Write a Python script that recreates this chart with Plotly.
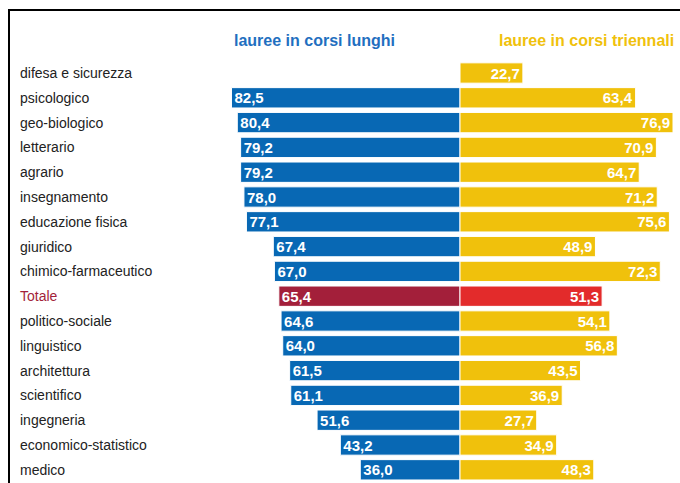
import plotly.graph_objects as go

categorie = ['difesa e sicurezza', 'psicologico', 'geo-biologico', 'letterario', 'agrario',
             'insegnamento', 'educazione fisica', 'giuridico', 'chimico-farmaceutico', 'Totale',
             'politico-sociale', 'linguistico', 'architettura', 'scientifico', 'ingegneria',
             'economico-statistico', 'medico']
lunghi = [None, 82.5, 80.4, 79.2, 79.2, 78.0, 77.1, 67.4, 67.0, 65.4,
          64.6, 64.0, 61.5, 61.1, 51.6, 43.2, 36.0]
triennali = [22.7, 63.4, 76.9, 70.9, 64.7, 71.2, 75.6, 48.9, 72.3, 51.3,
             54.1, 56.8, 43.5, 36.9, 27.7, 34.9, 48.3]

BLU, GIALLO = '#0868b4', '#f0c10c'
BORDEAUX, ROSSO = '#a31f3a', '#e32b2b'


def fmt(v):
    return '' if v is None else f'<b>{v:.1f}</b>'.replace('.', ',')


col_l = [BORDEAUX if c == 'Totale' else BLU for c in categorie]
col_r = [ROSSO if c == 'Totale' else GIALLO for c in categorie]

fig = go.Figure()
fig.add_trace(go.Bar(
    y=categorie, x=[None if v is None else -v for v in lunghi],
    orientation='h', marker=dict(color=col_l, line=dict(color='white', width=1)),
    text=[fmt(v) for v in lunghi], textposition='inside', insidetextanchor='end',
    textangle=0, constraintext='none',
    insidetextfont=dict(color='white', size=15, family='Liberation Sans'),
    width=0.82, hoverinfo='skip'))
fig.add_trace(go.Bar(
    y=categorie, x=triennali,
    orientation='h', marker=dict(color=col_r, line=dict(color='white', width=1)),
    text=[fmt(v) for v in triennali], textposition='inside', insidetextanchor='end',
    textangle=0, constraintext='none',
    insidetextfont=dict(color='white', size=15, family='Liberation Sans'),
    width=0.82, hoverinfo='skip'))

# etichette categorie a sinistra
for c in categorie:
    fig.add_annotation(x=18 / 680, xref='paper', y=c, yref='y', text=c,
                       showarrow=False, xanchor='left',
                       font=dict(size=14, color=BORDEAUX if c == 'Totale' else '#222222',
                                 family='Liberation Sans'))

fig.add_annotation(x=314 / 680, y=1 - 30 / 483, xref='paper', yref='paper',
                   text='<b>lauree in corsi lunghi</b>', showarrow=False,
                   font=dict(size=16, color='#1f6fc0', family='Liberation Sans'))
fig.add_annotation(x=676 / 680, y=1 - 30 / 483, xref='paper', yref='paper',
                   text='<b>lauree in corsi triennali</b>', showarrow=False, xanchor='right',
                   font=dict(size=16, color=GIALLO, family='Liberation Sans'))

# cornice
fig.add_shape(type='rect', xref='paper', yref='paper',
              x0=9 / 680, x1=1.2, y0=-0.2, y1=1 - 10 / 483,
              line=dict(color='black', width=2), layer='above')

fig.update_layout(
    width=680, height=483, barmode='overlay', showlegend=False,
    margin=dict(l=0, r=0, t=0, b=0),
    plot_bgcolor='white', paper_bgcolor='white',
    font=dict(family='Liberation Sans'),
)
fig.update_xaxes(range=[-460 / 2.77, 220 / 2.77], visible=False)
fig.update_yaxes(range=[(483 - 73) / 24.8, -73 / 24.8], visible=False)

fig.write_html('out.html', config={'displayModeBar': False},
               post_script="document.body.style.margin='0';")
